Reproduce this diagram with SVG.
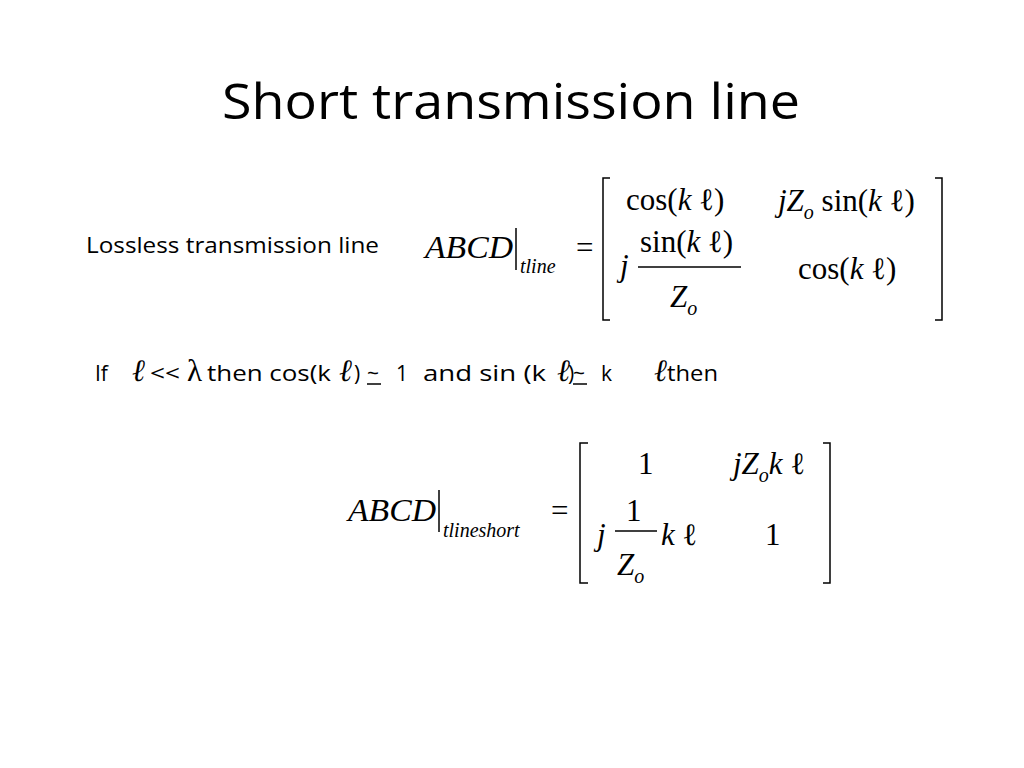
<svg xmlns="http://www.w3.org/2000/svg" width="1024" height="768" viewBox="0 0 1024 768">
<style>
.m{font-family:"Liberation Serif",serif;font-size:31px;fill:#000}
.i{font-style:italic}
.s{font-size:20px}
.t{font-family:"Open Sans",Lato,sans-serif;fill:#000;font-size:21px}
.br{fill:none;stroke:#000;stroke-width:1.5}
</style>
<rect width="1024" height="768" fill="#fff"/>
<text class="t" x="222" y="119" style="font-size:50px" textLength="578" lengthAdjust="spacingAndGlyphs">Short transmission line</text>
<g id="lossless">
<text class="t" x="86" y="253" textLength="293" lengthAdjust="spacingAndGlyphs">Lossless transmission line</text>
<text class="m i" x="425" y="258" textLength="88" lengthAdjust="spacingAndGlyphs">ABCD</text>
<line class="br" x1="516" y1="228" x2="516" y2="270"/>
<text class="m i s" x="520" y="273">tline</text>
<text class="m" x="576" y="258">=</text>
<path class="br" d="M610,178H603V320H610M935,178H942V320H935"/>
<text class="m" x="626" y="210">cos(<tspan class="i">k</tspan> ℓ)</text>
<text class="m" x="778" y="211"><tspan class="i">jZ</tspan><tspan class="i" font-size="20" dy="8">o</tspan><tspan dy="-8"> sin(</tspan><tspan class="i">k</tspan> ℓ)</text>
<text class="m i" x="620" y="276">j</text>
<text class="m" x="640" y="252">sin(<tspan class="i">k</tspan> ℓ)</text>
<line class="br" x1="638" y1="267" x2="741" y2="267"/>
<text class="m i" x="670" y="307">Z<tspan font-size="20" dy="8">o</tspan></text>
<text class="m" x="798" y="279">cos(<tspan class="i">k</tspan> ℓ)</text>
</g>
<g id="condition">
<text class="t" x="95" y="381">If</text>
<text class="m i" x="132" y="381" font-size="20">ℓ</text>
<text class="t" x="150" y="381" textLength="30" lengthAdjust="spacingAndGlyphs">&lt;&lt;</text>
<text class="m" x="187" y="381" font-size="22">λ</text>
<text class="t" x="207" y="381" textLength="124" lengthAdjust="spacingAndGlyphs">then cos(k</text>
<text class="m i" x="339" y="381" font-size="20">ℓ</text>
<text class="t" x="354" y="381">)</text>
<text class="t" x="367" y="381">~</text>
<line x1="367" y1="384" x2="381" y2="384" stroke="#000" stroke-width="1.5"/>
<text class="t" x="396" y="381">1</text>
<text class="t" x="423" y="381" textLength="123" lengthAdjust="spacingAndGlyphs">and sin (k</text>
<text class="m i" x="557" y="381" font-size="20">ℓ</text>
<text class="t" x="568" y="381">)</text>
<text class="t" x="573" y="381">~</text>
<line x1="573" y1="384" x2="587" y2="384" stroke="#000" stroke-width="1.5"/>
<text class="t" x="601" y="381">k</text>
<text class="m i" x="654" y="381" font-size="20">ℓ</text>
<text class="t" x="667" y="381" textLength="51" lengthAdjust="spacingAndGlyphs">then</text>
</g>
<g id="short">
<text class="m i" x="348" y="521" textLength="88" lengthAdjust="spacingAndGlyphs">ABCD</text>
<line class="br" x1="439" y1="490" x2="439" y2="532"/>
<text class="m i s" x="443" y="537">tlineshort</text>
<text class="m" x="551" y="521">=</text>
<path class="br" d="M588,443H580V583H588M823,443H830V583H823"/>
<text class="m" x="638" y="474">1</text>
<text class="m i" x="733" y="474">jZ<tspan font-size="20" dy="8">o</tspan><tspan dy="-8">k</tspan><tspan font-style="normal"> ℓ</tspan></text>
<text class="m i" x="597" y="545">j</text>
<text class="m" x="626" y="521">1</text>
<line class="br" x1="615" y1="531" x2="657" y2="531"/>
<text class="m i" x="617" y="575">Z<tspan font-size="20" dy="8">o</tspan></text>
<text class="m i" x="661" y="545">k<tspan font-style="normal"> ℓ</tspan></text>
<text class="m" x="765" y="545">1</text>
</g>
</svg>
